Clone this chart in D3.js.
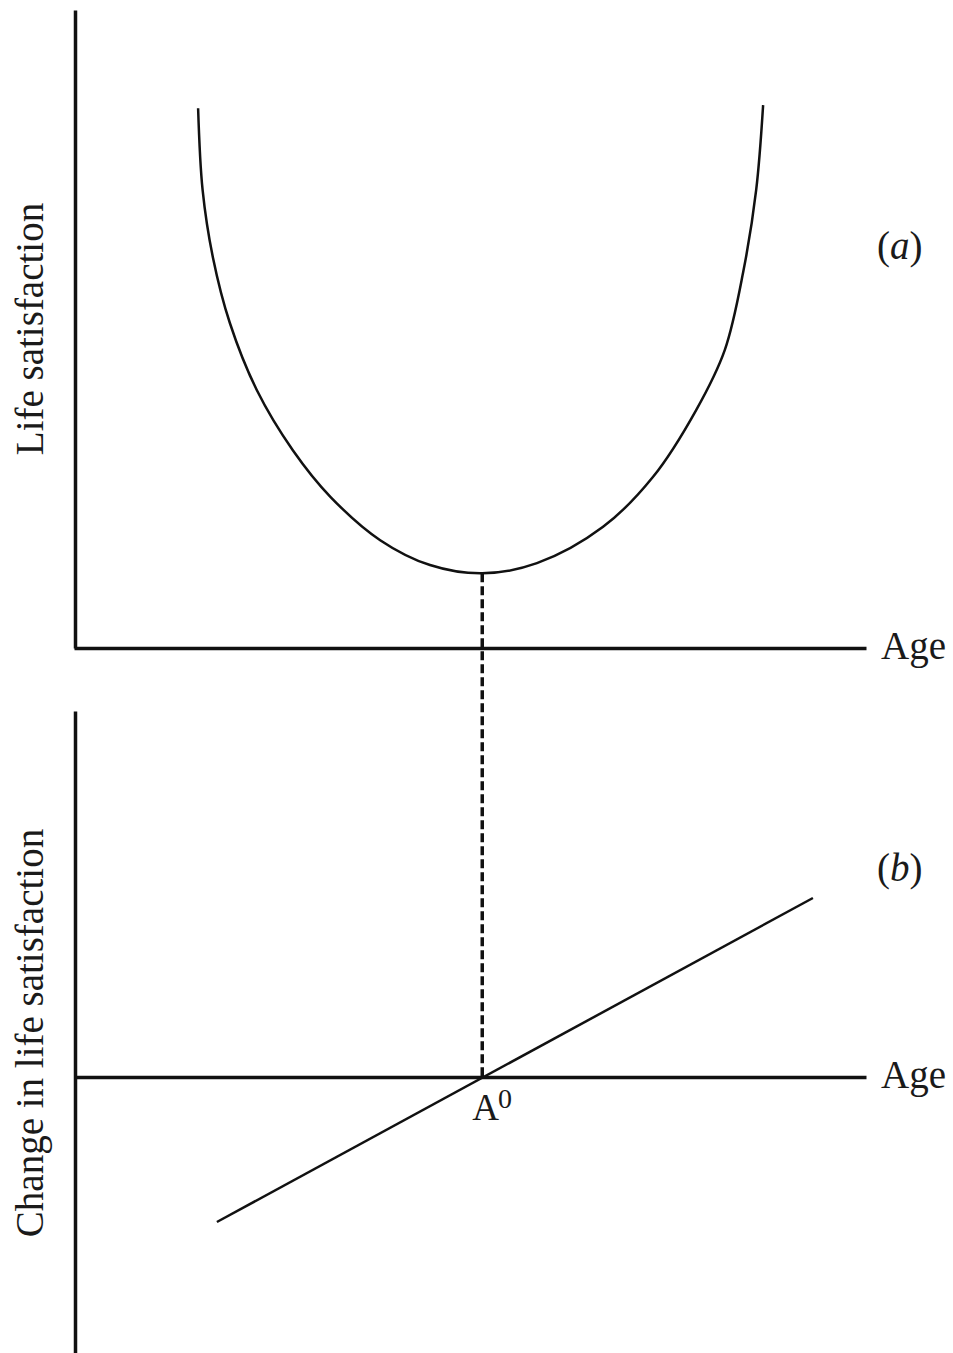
<!DOCTYPE html>
<html>
<head>
<meta charset="utf-8">
<script src="https://cdn.jsdelivr.net/npm/d3@7"></script>
<style>
  body { margin: 0; background: #fff; }
  text { font-family: "Liberation Serif", "DejaVu Serif", serif; fill: #1a1a1a; }
</style>
</head>
<body>
<div id="chart"></div>
<script>
// age values along the U curve (panel a) and life satisfaction at each
const curveAge = [15.2, 15.75, 17.0, 19.1, 22.4, 26.8, 31.4, 37.5, 43.6, 50.0, 56.7, 64.8, 70.9, 76.2, 79.7, 82.0, 83.55, 84.4];
const curveSat = [84.6, 71.8, 61.3, 50.9, 40.4, 31.0, 23.7, 16.9, 13.0, 11.7, 13.3, 19.0, 26.8, 37.3, 46.7, 59.2, 71.8, 85.1];

// straight line of panel b: change in life satisfaction
const lineAge = [17.5, 90.5];
const lineChange = [-7.25, 8.95];

const minAge = 50;          // A0
const minSat = 11.7;

const labels = { yA: "Life satisfaction", yB: "Change in life satisfaction", x: "Age" };

const width = 953;
const height = 1353;

const svg = d3.select("#chart")
  .append("svg")
  .attr("width", width)
  .attr("height", height);

const x = d3.scaleLinear().domain([0, 97]).range([74, 866]);
const yA = d3.scaleLinear().domain([0, 100]).range([648, 10]);
const yB = d3.scaleLinear().domain([-13.8, 18.3]).range([1353, 711]);

// AXES (bare lines, no ticks)
function bare(g, w) {
  g.select(".domain").attr("stroke", "#111").attr("stroke-width", w);
}

svg.append("g")
  .attr("transform", `translate(0,${yA(0)})`)
  .call(d3.axisBottom(x).tickValues([]).tickSizeOuter(0))
  .call(bare, 3.5);

svg.append("g")
  .attr("transform", `translate(${x(0) + 1},0)`)
  .call(d3.axisLeft(yA).tickValues([]).tickSizeOuter(0))
  .call(bare, 3.5);

svg.append("g")
  .attr("transform", `translate(0,${yB(0)})`)
  .call(d3.axisBottom(x).tickValues([]).tickSizeOuter(0))
  .call(bare, 3.5);

svg.append("g")
  .attr("transform", `translate(${x(0) + 1},0)`)
  .call(d3.axisLeft(yB).tickValues([]).tickSizeOuter(0))
  .call(bare, 3.5);

// DASHED DROP LINE
svg.append("line")
  .attr("x1", x(minAge)).attr("x2", x(minAge))
  .attr("y1", yA(minSat)).attr("y2", yB(0))
  .attr("stroke", "#111")
  .attr("stroke-width", 3.5)
  .attr("stroke-dasharray", "9,4");

// U CURVE
const pts = curveAge.map((a, i) => [a, curveSat[i]]);
svg.append("path")
  .datum(pts)
  .attr("fill", "none")
  .attr("stroke", "#111")
  .attr("stroke-width", 2.5)
  .attr("d", d3.line().x(d => x(d[0])).y(d => yA(d[1])).curve(d3.curveCatmullRom.alpha(0.5)));

// STRAIGHT LINE
svg.append("path")
  .datum(lineAge.map((a, i) => [a, lineChange[i]]))
  .attr("fill", "none")
  .attr("stroke", "#111")
  .attr("stroke-width", 2.5)
  .attr("d", d3.line().x(d => x(d[0])).y(d => yB(d[1])));

// LABELS
const fs = 39;

svg.append("text")
  .attr("transform", `translate(43,329) rotate(-90)`)
  .attr("text-anchor", "middle")
  .style("font-size", fs + "px")
  .text(labels.yA);

svg.append("text")
  .attr("transform", `translate(43,1033) rotate(-90)`)
  .attr("text-anchor", "middle")
  .style("font-size", fs + "px")
  .text(labels.yB);

[yA(0), yB(0)].forEach(yy => {
  svg.append("text")
    .attr("x", 881)
    .attr("y", yy + 11)
    .style("font-size", fs + "px")
    .text(labels.x);
});

function panelTag(tx, ty, letter) {
  const t = svg.append("text")
    .attr("x", tx)
    .attr("y", ty)
    .style("font-size", fs + "px");
  t.append("tspan").text("(");
  t.append("tspan").style("font-style", "italic").text(letter);
  t.append("tspan").text(")");
}
panelTag(877, 259, "a");
panelTag(877, 881, "b");

const a0 = svg.append("text")
  .attr("x", x(minAge) - 10)
  .attr("y", yB(0) + 43)
  .style("font-size", "37px");
a0.append("tspan").text("A");
a0.append("tspan")
  .attr("dy", -12)
  .attr("dx", -1)
  .style("font-size", "28px")
  .text("0");
</script>
</body>
</html>
